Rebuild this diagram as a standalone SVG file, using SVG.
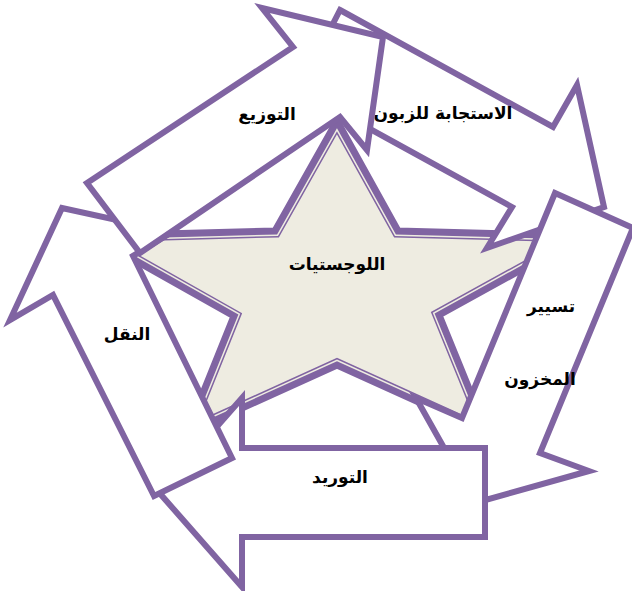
<svg xmlns="http://www.w3.org/2000/svg" width="632" height="591" viewBox="0 0 632 591">
<defs>
<style>
.arrow{fill:#ffffff;stroke:#8064A2;stroke-width:6;stroke-linejoin:miter;stroke-miterlimit:10}
.lbl{font-family:"DejaVu Sans",sans-serif;font-weight:bold;font-size:17px;fill:#000000;text-anchor:middle}
</style>
<path id="starShape" d="M337,121 L398,231 L582,236 L439,315 L487,433 L337,365 L187,433 L234,316 L92,236 L275,231 Z"/>
<clipPath id="starClip"><path d="M337,121 L398,231 L582,236 L439,315 L487,433 L337,365 L187,433 L234,316 L92,236 L275,231 Z"/></clipPath>
</defs>
<rect width="632" height="591" fill="#ffffff"/>
<g id="star">
<use href="#starShape" fill="#EEECE1"/>
<g clip-path="url(#starClip)">
<use href="#starShape" fill="none" stroke="#8064A2" stroke-width="13"/>
<use href="#starShape" fill="none" stroke="#EEECE1" stroke-width="10"/>
</g>
<use href="#starShape" fill="none" stroke="#8064A2" stroke-width="7"/>
<text class="lbl" x="337" y="270">اللوجستيات</text>
</g>
<g id="arrow-response">
<path class="arrow" d="M340,10 L553,127 L577,85 L604,207 L487,248 L512,207 L299,90 Z"/>
<text class="lbl" x="443" y="119">الاستجابة للزبون</text>
</g>
<g id="arrow-inventory">
<path class="arrow" d="M555,193 L633,228 L540,453 L589,471 L475,503 L416,398 L462,418 Z"/>
<text class="lbl" x="551" y="312">تسيير</text>
<text class="lbl" x="540" y="385">المخزون</text>
</g>
<g id="arrow-supply">
<path class="arrow" d="M485,448 H242 V398 L159,492.5 L242,587 V537 H485 Z"/>
<text class="lbl" x="340" y="483">التوريد</text>
</g>
<g id="arrow-transport">
<path class="arrow" d="M154,496 L53,295 L10,320 L62,208 L172,232 L133,256 L232,458 Z"/>
<text class="lbl" x="127" y="340">النقل</text>
</g>
<g id="arrow-distribution">
<path class="arrow" d="M87,183 L293,47 L262,8 L383,37 L367,150 L340,117 L140,253 Z"/>
<text class="lbl" x="267" y="120">التوزيع</text>
</g>
</svg>
